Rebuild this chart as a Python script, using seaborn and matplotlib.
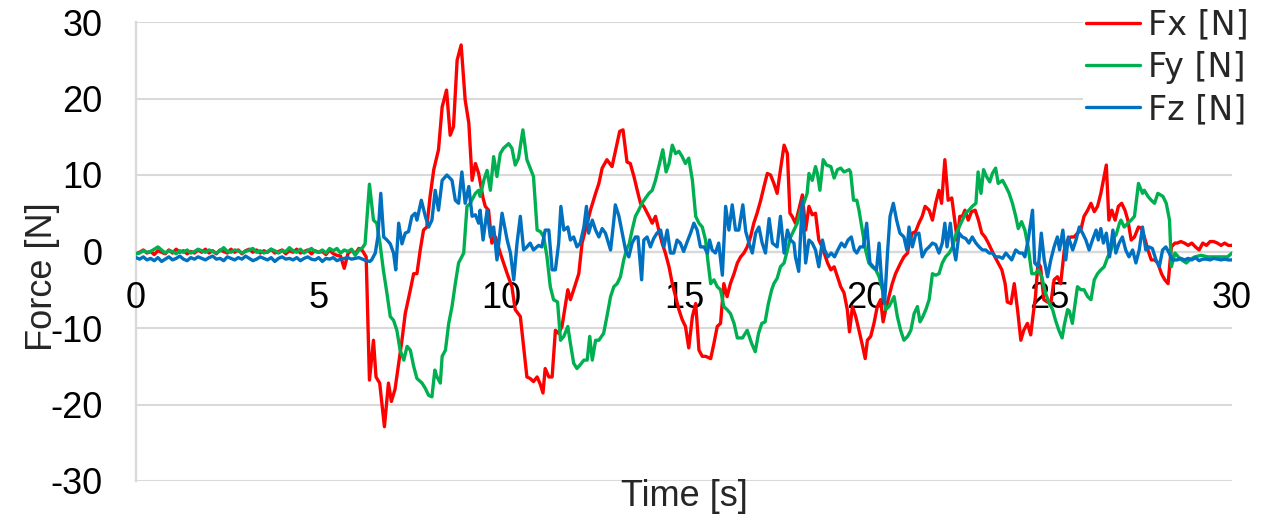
import numpy as np
import pandas as pd
import matplotlib
matplotlib.use("Agg")
import matplotlib.pyplot as plt
from matplotlib.lines import Line2D
from matplotlib.ticker import MultipleLocator
import seaborn as sns

# ---------------- data ----------------
series_names = ["Fx [N]", "Fy [N]", "Fz [N]"]
series_colors = ["#FF0000", "#00B050", "#0070C0"]

# quiet start, one value every 0.1 s from t = 0
fx_start = [-0.3, -0.1, 0.2, -0.2, 0.0, -0.4, 0.1, -0.1, -0.3, 0.2,
            -0.2, 0.3, -0.1, 0.1, -0.3, 0.0, -0.2, 0.2, -0.1, 0.3,
            -0.2, 0.1, -0.3, 0.2, 0.0, -0.2, 0.3, -0.1, 0.2, -0.3,
            0.1, 0.3, -0.1, 0.2, -0.2, 0.1, -0.1, 0.3, -0.2, 0.0,
            0.2, -0.3, 0.1, -0.1, 0.3, -0.2, 0.0, 0.2, -0.3, 0.1,
            -0.1, 0.0, -0.4, 0.2, -0.3, -0.5, -0.6, -2.2, -0.3, 0.2,
            -0.3, 0.4, 0.1]
fy_start = [-0.3, -0.2, 0.1, -0.1, 0.0, 0.3, 0.6, 0.2, -0.2, 0.1,
            0.0, -0.3, 0.1, -0.1, 0.2, -0.2, 0.0, 0.3, 0.1, -0.1,
            0.2, 0.0, -0.2, 0.1, 0.5, 0.0, -0.1, 0.2, 0.1, -0.2,
            0.0, 0.2, 0.4, -0.1, 0.1, -0.2, 0.0, 0.3, 0.1, -0.2,
            0.1, 0.0, 0.5, 0.1, -0.1, 0.3, -0.2, 0.1, 0.4, 0.0,
            -0.1, 0.2, -0.2, 0.4, 0.1, 0.4, -0.2, 0.2, 0.0, 0.3,
            -0.5, 0.2, 0.5]
fz_start = [-0.8, -1.0, -0.7, -1.1, -0.9, -1.2, -0.8, -1.3, -1.0, -0.7,
            -1.1, -0.9, -0.6, -1.0, -1.2, -0.8, -1.0, -0.7, -0.9, -1.1,
            -0.8, -0.6, -1.0, -0.9, -1.2, -0.7, -0.9, -1.1, -0.8, -1.0,
            -0.6, -0.9, -1.2, -1.0, -0.7, -0.9, -1.1, -0.8, -1.3, -0.9,
            -0.7, -1.0, -0.9, -1.1, -0.8, -1.2, -0.9, -0.7, -1.0, -1.1,
            -0.8, -1.3, -0.9, -1.0, -0.8, -1.2, -1.0, -0.9, -0.8, -1.0,
            -0.9, -0.8, -1.0, -1.2, -1.3]

# active part: (time, value)
fx_t = [6.3, 6.39, 6.5, 6.57, 6.67, 6.8, 6.91, 6.99, 7.09, 7.19, 7.28, 7.37, 7.51, 7.6, 7.69, 7.78, 7.87, 7.96,
        8.05, 8.15, 8.28, 8.38, 8.5, 8.6, 8.69, 8.79, 8.9, 9.01, 9.11, 9.2, 9.29, 9.38, 9.5, 9.56, 9.65, 9.74,
        9.84, 9.97, 10.06, 10.16, 10.29, 10.38, 10.52, 10.61, 10.7, 10.79, 10.88, 10.98, 11.07, 11.14, 11.2,
        11.3, 11.39, 11.48, 11.57, 11.66, 11.82, 11.89, 11.98, 12.12, 12.21, 12.3, 12.44, 12.58, 12.67, 12.76,
        12.89, 13.03, 13.15, 13.24, 13.33, 13.44, 13.53, 13.63, 13.72, 13.81, 13.9, 14.04, 14.13, 14.22, 14.31,
        14.4, 14.49, 14.59, 14.68, 14.77, 14.86, 14.95, 15.04, 15.13, 15.23, 15.32, 15.41, 15.5, 15.59, 15.73,
        15.82, 15.91, 16.0, 16.09, 16.18, 16.27, 16.37, 16.46, 16.55, 16.64, 16.73, 16.82, 16.91, 17.0, 17.1,
        17.19, 17.28, 17.37, 17.46, 17.55, 17.64, 17.74, 17.83, 17.9, 17.96, 18.05, 18.14, 18.24, 18.33, 18.42,
        18.51, 18.6, 18.69, 18.78, 18.93, 19.02, 19.11, 19.2, 19.29, 19.38, 19.47, 19.53, 19.61, 19.7, 19.79,
        19.89, 19.96, 20.02, 20.11, 20.2, 20.29, 20.38, 20.45, 20.52, 20.61, 20.7, 20.79, 20.93, 21.02, 21.12,
        21.16, 21.25, 21.34, 21.43, 21.52, 21.6, 21.71, 21.8, 21.89, 21.98, 22.05, 22.14, 22.23, 22.33, 22.42,
        22.48, 22.55, 22.62, 22.69, 22.78, 22.87, 22.97, 23.06, 23.15, 23.24, 23.33, 23.42, 23.51, 23.6, 23.7,
        23.79, 23.85, 23.95, 24.04, 24.13, 24.22, 24.3, 24.4, 24.49, 24.55, 24.62, 24.69, 24.76, 24.85, 24.95,
        25.04, 25.13, 25.22, 25.31, 25.41, 25.5, 25.59, 25.68, 25.77, 25.86, 25.95, 26.05, 26.14, 26.23, 26.32,
        26.41, 26.48, 26.56, 26.63, 26.71, 26.8, 26.89, 26.98, 27.07, 27.15, 27.24, 27.33, 27.44, 27.53, 27.6,
        27.7, 27.79, 27.88, 27.97, 28.07, 28.16, 28.25, 28.34, 28.44]
fx_v = [-0.7, -16.8, -11.6, -16.4, -17.2, -22.9, -17.2, -19.6, -18.0, -14.6, -11.6, -8.1, -5.0, -2.9, -2.9, 0.2, 2.8, 3.2,
        7.2, 10.7, 13.3, 18.9, 21.1, 15.2, 16.3, 25.0, 27.0, 19.8, 16.8, 9.3, 11.5, 10.2, 7.0, 5.9, 5.4, 1.1,
        1.9, -0.2, -1.5, -2.9, -4.6, -7.6, -8.5, -12.4, -16.4, -16.6, -17.0, -16.4, -17.4, -18.5, -15.3,
        -16.4, -16.4, -10.3, -10.7, -9.8, -5.0, -6.3, -5.0, -2.9, 1.1, 2.8, 5.4, 7.6, 8.9, 10.9,
        12.0, 11.1, 13.7, 15.7, 15.9, 11.7, 11.5, 9.8, 8.0, 6.3, 5.9, 4.6, 3.7, 4.6, 2.8,
        1.1, -0.2, -2.0, -4.2, -5.9, -7.6, -8.9, -9.8, -12.6, -8.5, -6.8, -12.9, -13.7, -13.7, -14.0,
        -12.0, -9.8, -9.4, -4.2, -5.9, -4.2, -2.9, -1.5, -0.7, -0.2, 0.6, 1.9, 3.7, 5.0, 6.7,
        8.5, 10.2, 10.0, 8.9, 7.6, 10.7, 13.9, 12.8, 5.0, 4.6, 3.7, 5.4, 7.4, 2.8, 5.9,
        4.8, 5.0, 1.5, 0.6, -1.5, -2.4, -2.0, -3.3, -4.6, -5.4, -7.6, -10.5, -7.2, -8.5, -10.3,
        -12.4, -14.0, -11.6, -11.1, -9.4, -7.2, -6.3, -9.2, -7.6, -5.9, -4.2, -2.9, -1.5, -0.7, -0.2,
        1.1, 2.4, 2.6, 3.7, 4.6, 5.9, 5.4, 4.1, 6.3, 8.0, 6.3, 12.0, 6.7, 7.0, 3.7,
        1.5, 4.6, 4.6, 5.4, 4.1, 5.2, 5.4, 4.1, 2.4, 1.9, 1.1, 0.2, -0.7, -1.5, -2.4,
        -4.2, -6.6, -6.8, -4.2, -7.6, -11.6, -10.3, -9.4, -10.9, -8.5, -5.9, -1.5, -2.0, -6.3, -6.6,
        -6.8, -3.7, -3.3, -4.2, 0.2, 1.5, 1.9, 1.9, 2.4, 2.8, 4.6, 5.4, 6.3, 5.2, 5.9,
        7.6, 9.3, 11.3, 4.1, 5.4, 4.1, 5.9, 6.3, 5.4, 4.1, 1.5, 1.9, 3.2, 3.0, 1.9,
        0.2, -1.1, -1.1, -1.5, -2.9, -3.7, -4.2, 0.6, 1.1]
fx_end = [1.1, 1.3, 1.1, 0.8, 1.1, 0.6, 0.2, 1.1, 0.8, 1.3, 1.3, 1.1, 0.8, 1.1, 0.8, 0.8]  # 28.5 .. 30.0

fy_t = [6.27, 6.39, 6.5, 6.59, 6.68, 6.77, 6.87, 6.96, 7.05, 7.14, 7.23, 7.33, 7.42, 7.51, 7.6, 7.69, 7.83, 7.92,
        8.01, 8.1, 8.18, 8.24, 8.33, 8.38, 8.47, 8.56, 8.65, 8.74, 8.83, 8.97, 9.06, 9.15, 9.29, 9.38, 9.42,
        9.52, 9.61, 9.7, 9.79, 9.88, 9.97, 10.06, 10.2, 10.29, 10.38, 10.47, 10.59, 10.7, 10.79, 10.88, 10.98,
        11.07, 11.16, 11.25, 11.34, 11.43, 11.54, 11.62, 11.71, 11.82, 11.89, 11.98, 12.07, 12.16, 12.26,
        12.35, 12.42, 12.49, 12.58, 12.67, 12.8, 12.89, 12.99, 13.08, 13.17, 13.26, 13.35, 13.44, 13.5,
        13.58, 13.67, 13.76, 13.85, 13.95, 14.04, 14.13, 14.22, 14.31, 14.42, 14.51, 14.59, 14.68, 14.77,
        14.86, 14.95, 15.04, 15.13, 15.23, 15.32, 15.41, 15.5, 15.59, 15.66, 15.73, 15.82, 15.91, 16.0, 16.09,
        16.18, 16.27, 16.37, 16.46, 16.6, 16.73, 16.85, 16.95, 17.04, 17.13, 17.22, 17.31, 17.4, 17.46, 17.55,
        17.64, 17.74, 17.83, 17.92, 18.01, 18.1, 18.19, 18.28, 18.37, 18.42, 18.51, 18.6, 18.65, 18.72, 18.81,
        18.9, 19.02, 19.11, 19.2, 19.29, 19.38, 19.52, 19.56, 19.64, 19.73, 19.79, 19.88, 19.97, 20.06, 20.15,
        20.25, 20.34, 20.43, 20.52, 20.61, 20.75, 20.84, 20.93, 21.02, 21.12, 21.21, 21.3, 21.39, 21.46,
        21.52, 21.62, 21.71, 21.8, 21.89, 21.98, 22.07, 22.16, 22.26, 22.35, 22.44, 22.53, 22.62, 22.71, 22.8,
        22.89, 22.99, 23.05, 23.13, 23.2, 23.28, 23.37, 23.44, 23.53, 23.6, 23.72, 23.81, 23.9, 23.99, 24.08,
        24.15, 24.24, 24.33, 24.42, 24.52, 24.61, 24.7, 24.79, 24.9, 25.0, 25.09, 25.17, 25.26, 25.35, 25.41,
        25.5, 25.55, 25.63, 25.77, 25.86, 25.95, 26.05, 26.14, 26.23, 26.32, 26.41, 26.5, 26.6, 26.69, 26.78,
        26.83, 26.92, 26.96, 27.05, 27.15, 27.24, 27.33, 27.44, 27.55, 27.6, 27.7, 27.79, 27.88, 27.97, 28.11,
        28.2, 28.29, 28.34, 28.44, 28.53, 28.62, 28.75, 28.84, 28.98, 29.16, 29.34, 29.52, 29.7, 29.88, 30.0]
fy_v = [1.0, 8.8, 4.1, 3.7, 1.0, -2.4, -5.5, -8.5, -9.0, -10.3, -12.9, -14.2, -12.4, -12.9, -15.0, -16.6, -17.2, -17.9,
        -18.8, -19.0, -15.5, -16.4, -17.2, -13.7, -12.9, -9.4, -7.2, -4.2, -1.5, -0.2, 5.9, 6.3, 7.6, 8.0, 7.2,
        9.3, 10.6, 8.0, 12.4, 9.8, 12.8, 13.5, 14.1, 13.5, 11.3, 12.2, 15.9, 12.0, 10.9, 9.8, 2.8,
        2.6, 1.9, -0.7, -4.6, -6.3, -6.6, -11.6, -11.1, -9.8, -12.0, -14.6, -15.3, -14.8, -14.2,
        -14.2, -11.1, -14.2, -11.6, -11.6, -10.7, -8.5, -5.9, -4.6, -4.2, -3.3, -1.1, 0.4, 1.0,
        2.8, 4.6, 5.4, 6.3, 7.0, 7.6, 8.0, 9.3, 11.1, 13.3, 10.4, 11.5, 13.9, 12.8,
        13.1, 12.4, 11.5, 12.2, 9.3, 4.6, 3.7, 3.2, 1.5, -1.5, -4.2, -3.7, -4.6, -5.0, -7.2,
        -7.6, -8.1, -9.4, -11.3, -11.3, -10.3, -12.0, -13.1, -10.7, -9.4, -9.2, -6.8, -5.0, -4.2, -3.5,
        -2.0, -1.5, 0.2, 1.9, 2.8, 3.7, 5.4, 6.3, 7.6, 10.2, 9.3, 11.1, 10.2, 8.0, 12.0,
        11.3, 11.1, 9.6, 10.7, 10.9, 10.4, 10.7, 10.4, 6.7, 6.7, 5.4, 2.8, 0.2, -1.5, -2.0,
        -2.4, -3.3, -5.0, -7.6, -7.2, -5.9, -8.5, -10.3, -11.6, -11.1, -10.3, -8.1, -7.2, -9.2,
        -8.7, -7.6, -6.3, -2.9, -3.1, -2.9, -1.5, -0.7, -0.2, 0.6, 2.2, 3.2, 4.1, 5.0, 5.4,
        5.9, 6.3, 10.4, 7.6, 10.7, 9.8, 9.1, 10.2, 10.9, 8.9, 9.3, 8.5, 7.6, 6.3, 4.6,
        3.0, 3.9, 2.8, 0.6, -2.9, -2.9, -2.4, -3.3, -5.5, -6.8, -7.6, -9.0, -10.3, -11.3, -9.6,
        -7.6, -7.8, -9.4, -4.6, -5.0, -5.0, -5.9, -6.3, -3.7, -2.9, -2.4, -2.0, -0.7, 0.2, 1.9,
        2.2, 3.7, 4.1, 3.2, 3.7, 4.1, 4.6, 8.9, 7.6, 8.0, 7.2, 6.7, 6.3, 7.6, 7.2,
        6.3, 4.1, -2.0, -0.2, -0.7, -1.1, -1.5, -1.1, -0.7, -0.5, -0.7, -0.7, -0.7, -0.7, -0.2]

fz_t = [6.45, 6.55, 6.62, 6.7, 6.78, 6.87, 6.96, 7.05, 7.11, 7.19, 7.28, 7.37, 7.46, 7.55, 7.64, 7.69, 7.81, 7.92,
        8.01, 8.1, 8.19, 8.28, 8.38, 8.51, 8.65, 8.74, 8.83, 8.92, 9.01, 9.11, 9.2, 9.29, 9.38, 9.42, 9.5, 9.61,
        9.7, 9.79, 9.88, 10.02, 10.16, 10.25, 10.34, 10.43, 10.52, 10.61, 10.7, 10.79, 10.88, 11.02, 11.11,
        11.2, 11.3, 11.39, 11.48, 11.57, 11.63, 11.71, 11.82, 11.89, 11.98, 12.07, 12.16, 12.26, 12.33, 12.39,
        12.49, 12.58, 12.67, 12.76, 12.85, 12.99, 13.08, 13.12, 13.22, 13.31, 13.4, 13.49, 13.58, 13.67, 13.74,
        13.84, 13.9, 13.99, 14.08, 14.17, 14.26, 14.36, 14.45, 14.54, 14.63, 14.72, 14.81, 14.9, 14.99, 15.09,
        15.18, 15.27, 15.36, 15.45, 15.55, 15.64, 15.7, 15.77, 15.86, 15.95, 16.05, 16.14, 16.23, 16.32, 16.41,
        16.5, 16.61, 16.69, 16.78, 16.87, 16.96, 17.05, 17.14, 17.23, 17.33, 17.42, 17.55, 17.64, 17.74, 17.83,
        17.92, 18.01, 18.05, 18.14, 18.24, 18.33, 18.42, 18.51, 18.6, 18.69, 18.79, 18.85, 18.94, 19.03, 19.12,
        19.21, 19.31, 19.4, 19.49, 19.58, 19.66, 19.73, 19.82, 19.91, 20.0, 20.09, 20.18, 20.27, 20.34, 20.4,
        20.49, 20.57, 20.64, 20.73, 20.82, 20.91, 21.02, 21.1, 21.16, 21.25, 21.34, 21.43, 21.52, 21.62, 21.71,
        21.8, 21.89, 21.98, 22.07, 22.14, 22.2, 22.29, 22.35, 22.44, 22.53, 22.62, 22.71, 22.8, 22.89, 22.99,
        23.08, 23.17, 23.26, 23.35, 23.44, 23.53, 23.63, 23.72, 23.81, 23.9, 23.97, 24.08, 24.18, 24.27, 24.33,
        24.42, 24.54, 24.6, 24.7, 24.78, 24.86, 24.95, 25.04, 25.13, 25.22, 25.28, 25.37, 25.45, 25.52, 25.64,
        25.73, 25.82, 25.91, 26.0, 26.09, 26.18, 26.28, 26.34, 26.41, 26.48, 26.56, 26.65, 26.74, 26.82, 26.91,
        27.0, 27.09, 27.18, 27.28, 27.37, 27.46, 27.55, 27.64, 27.73, 27.82, 27.92, 28.01, 28.1, 28.19, 28.28,
        28.36]
fz_v = [-1.1, -0.2, 1.9, 7.6, 1.9, 1.5, 1.0, -0.2, -2.4, 3.7, 1.0, 2.4, 2.6, 4.6, 5.0, 4.1, 6.7, 4.6,
        3.2, 4.1, 8.0, 5.4, 9.3, 10.0, 9.3, 6.7, 6.3, 10.4, 6.3, 8.5, 4.6, 4.8, 3.7, 5.4, 1.5, 5.4,
        1.9, 3.2, -1.1, 5.0, 1.5, -0.2, -3.7, 1.1, 4.6, 0.2, 0.6, 1.1, 0.2, 0.8, 0.6,
        2.8, 2.8, -2.4, -2.4, 1.1, 5.9, 2.8, 3.2, 1.5, 1.9, 0.6, 1.1, 3.2, 5.9, 2.4,
        4.1, 2.8, 1.9, 3.0, 2.4, 0.2, 4.1, 6.1, 4.6, 2.4, 0.2, -0.7, 1.1, 1.9, 1.9,
        -3.7, 1.5, 1.9, 0.6, 1.7, 2.4, 2.8, 0.6, 2.8, -0.2, -0.2, 1.5, 1.1, 0.0, 1.3,
        2.4, 3.7, 2.8, 0.6, 0.6, -0.2, 1.5, 0.2, -0.2, 1.1, -3.1, 5.9, 2.8, 6.1, 2.8,
        2.8, 6.1, 2.6, 1.1, -0.2, 2.4, 3.2, 1.1, -0.2, 4.3, 1.1, 0.6, 4.6, -0.2, 2.8,
        1.5, 1.1, -0.7, -2.6, 6.7, -1.5, 1.5, 1.1, 0.2, -2.0, 1.5, 0.2, -0.7, -0.2, -0.7,
        0.2, 1.1, 0.6, 1.5, 1.9, 0.2, -0.2, 0.6, 0.6, 3.7, -1.5, -2.0, -2.4, 1.1, -3.3,
        -6.8, -0.2, 4.6, 6.3, 4.1, 2.4, 1.9, 0.2, 3.2, 0.6, 2.2, 2.4, -0.7, 0.2, 0.6,
        1.1, 0.9, -0.2, 1.1, 3.7, 0.6, 3.7, 1.1, -1.1, 2.4, 1.9, 1.7, 1.1, 1.9, 1.1,
        0.6, 0.2, 0.2, -0.2, -0.2, -0.7, -0.7, -0.9, -0.2, -0.7, -1.1, 0.2, -0.2, -0.2, -0.7,
        1.5, 5.4, -1.5, -2.0, 2.4, -1.1, -3.3, -1.1, 0.6, 1.9, 0.2, 2.8, -1.1, 1.9, 0.2,
        1.5, 3.2, 2.4, 1.5, 0.2, 1.5, 2.8, 1.5, 3.0, 1.1, 2.4, -0.7, 2.8, -0.2, 1.1,
        1.9, 0.2, -0.7, 0.2, -1.5, 0.2, 3.2, 0.2, 0.6, 0.4, -1.1, -2.0, 0.2, 0.6, -0.2,
        -1.1]
fz_end = [-1.1, -0.9, -1.1, -0.9, -1.1, -0.8, -1.2, -1.0, -1.0, -1.1, -0.9, -1.0, -1.1, -1.0, -1.1, -1.1]  # 28.5 .. 30.0

x_ticks_major = 5
x_ticks_minor = 1
y_ticks = [-30, -20, -10, 0, 10, 20, 30]

# ---------------- assemble long table ----------------
def build(start, t_mid, v_mid, end=None):
    t = list(np.round(np.arange(len(start)) * 0.1, 2)) + list(t_mid)
    v = list(start) + list(v_mid)
    if end is not None:
        t += list(np.round(28.5 + np.arange(len(end)) * 0.1, 2))
        v += list(end)
    return t, v

frames = []
for name, parts in zip(series_names, [(fx_start, fx_t, fx_v, fx_end),
                                      (fy_start, fy_t, fy_v, None),
                                      (fz_start, fz_t, fz_v, fz_end)]):
    t, v = build(*parts)
    frames.append(pd.DataFrame({"time": t, "force": v, "series": name}))
df = pd.concat(frames, ignore_index=True)

# ---------------- plot ----------------
sns.set_theme(style="white")
plt.rcParams["font.family"] = ["Liberation Sans", "DejaVu Sans"]
plt.rcParams["axes.unicode_minus"] = False

W, H = 1266, 522
fig = plt.figure(figsize=(W / 100, H / 100), dpi=100)
ax = fig.add_axes([136 / W, 1 - 481 / H, (1232 - 136) / W, (481 - 22) / H])

palette = dict(zip(series_names, series_colors))
sns.lineplot(data=df, x="time", y="force", hue="series", palette=palette,
             estimator=None, sort=False, linewidth=2.4, legend=False, ax=ax)

grid_c = "#d9d9d9"
ax.set_xlim(0, 30)
ax.set_ylim(-30, 30)
ax.set_xlabel("")
ax.set_ylabel("")
ax.set_yticks(y_ticks)
ax.xaxis.set_major_locator(MultipleLocator(x_ticks_major))
ax.xaxis.set_minor_locator(MultipleLocator(x_ticks_minor))
ax.yaxis.set_minor_locator(MultipleLocator(2))
ax.yaxis.grid(True, which="major", color=grid_c, linewidth=1.5)
ax.xaxis.grid(False)
ax.set_axisbelow(True)

for s in ["top", "right"]:
    ax.spines[s].set_visible(False)
ax.spines["bottom"].set_position(("data", 0))
for s in ["bottom", "left"]:
    ax.spines[s].set_color(grid_c)
    ax.spines[s].set_linewidth(1.7)
    ax.spines[s].set_zorder(0.5)

ax.tick_params(axis="x", which="both", direction="in", length=6, width=1.5, color=grid_c,
               labelsize=26, pad=21, labelcolor="black")
ax.tick_params(axis="y", which="both", direction="in", length=6, width=1.5, color=grid_c,
               labelsize=26, pad=24, labelcolor="black")

fig.text(43 / W, 1 - 277 / H, "Force [N]", rotation=90, ha="center", va="center", fontsize=26)
fig.text(684 / W, 1 - 497 / H, "Time [s]", ha="center", va="center", fontsize=26)

handles = [Line2D([0], [0], color=c, linewidth=2.4) for c in series_colors]
leg = fig.legend(handles, series_names, loc="upper left", bbox_to_anchor=(1083 / W, 1 - 5 / H),
                 bbox_transform=fig.transFigure, frameon=True, facecolor="white", edgecolor="none",
                 framealpha=1, fancybox=False, borderpad=0.1, handlelength=1.6, handletextpad=0.25,
                 labelspacing=0.28, borderaxespad=0,
                 prop={"family": ["DejaVu Sans"], "size": 24})

fig.savefig("out.png", dpi=100)
